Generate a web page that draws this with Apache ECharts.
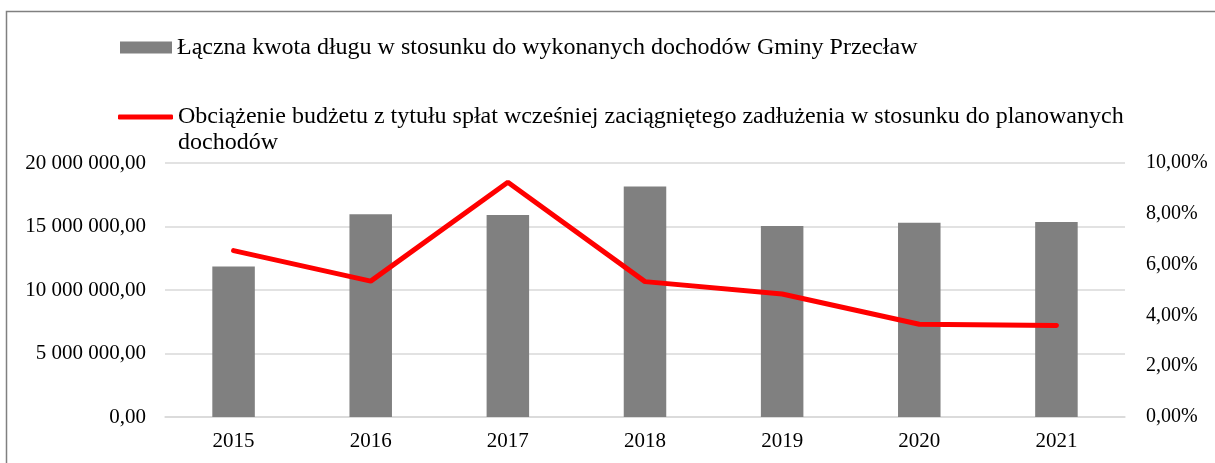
<!DOCTYPE html>
<html>
<head>
<meta charset="utf-8">
<script src="https://cdn.jsdelivr.net/npm/echarts@6/dist/echarts.min.js"></script>
<style>
  html, body { margin: 0; padding: 0; background: #fff; }
  #main { width: 1215px; height: 463px; }
</style>
</head>
<body>
<div id="main"></div>
<script>
var years = ['2015', '2016', '2017', '2018', '2019', '2020', '2021'];
// łączna kwota długu (zł)
var debtValues = [11850000, 15960000, 15900000, 18140000, 15040000, 15300000, 15350000];
// obciążenie budżetu (%)
var burdenValues = [6.55, 5.35, 9.24, 5.33, 4.84, 3.65, 3.60];

var debtName = 'Łączna kwota długu w stosunku do wykonanych dochodów Gminy Przecław';
var burdenName = 'Obciążenie budżetu z tytułu spłat wcześniej zaciągniętego zadłużenia w stosunku do planowanych dochodów';

var font = 'Liberation Serif, Times New Roman, serif';

function plNumber(v) {
    var parts = v.toFixed(2).split('.');
    var intPart = parts[0].replace(/\B(?=(\d{3})+(?!\d))/g, ' ');
    return intPart + ',' + parts[1];
}

var myChart = echarts.init(document.getElementById('main'));

var option = {
    animation: false,
    textStyle: { fontFamily: font, color: '#000' },
    graphic: [{
        type: 'rect',
        shape: { x: 6.5, y: 11.5, width: 1400, height: 700 },
        style: { fill: 'none', stroke: '#808080', lineWidth: 1.5 },
        silent: true
    }],
    legend: [
        {
            data: [{ name: debtName, icon: 'rect' }],
            left: 120,
            top: 34.5,
            padding: 0,
            itemWidth: 52,
            itemHeight: 12,
            selectedMode: false,
            textStyle: { fontFamily: font, fontSize: 24, color: '#000', lineHeight: 26 }
        },
        {
            data: [{ name: burdenName, icon: 'roundRect' }],
            left: 118,
            top: 78,
            padding: 0,
            itemWidth: 55,
            itemHeight: 5,
            selectedMode: false,
            formatter: function (name) {
                // pusta linia na górze, żeby pierwszy wiersz był na wysokości ikony
                return '\nObciążenie budżetu z tytułu spłat wcześniej zaciągniętego zadłużenia w stosunku do planowanych\ndochodów';
            },
            textStyle: { fontFamily: font, fontSize: 24, color: '#000', lineHeight: 26 }
        }
    ],
    grid: {
        left: 165,
        right: 90,
        top: 163,
        bottom: 46
    },
    xAxis: {
        type: 'category',
        data: years,
        axisTick: { show: false },
        axisLine: { lineStyle: { color: '#d9d9d9', width: 1.5 } },
        axisLabel: { fontFamily: font, fontSize: 21, color: '#000', margin: 14 }
    },
    yAxis: [
        {
            type: 'value',
            min: 0,
            max: 20000000,
            interval: 5000000,
            axisLine: { show: false },
            axisTick: { show: false },
            splitLine: { lineStyle: { color: '#d9d9d9', width: 1.5 } },
            axisLabel: {
                fontFamily: font, fontSize: 21, color: '#000', margin: 19,
                formatter: function (v) { return plNumber(v); }
            }
        },
        {
            type: 'value',
            min: 0,
            max: 10,
            interval: 2,
            position: 'right',
            axisLine: { show: false },
            axisTick: { show: false },
            splitLine: { show: false },
            axisLabel: {
                fontFamily: font, fontSize: 20, color: '#000', margin: 21,
                formatter: function (v) { return v.toFixed(2).replace('.', ',') + '%'; }
            }
        }
    ],
    series: [
        {
            name: debtName,
            type: 'bar',
            yAxisIndex: 0,
            barWidth: '31%',
            itemStyle: { color: '#808080' },
            data: debtValues
        },
        {
            name: burdenName,
            type: 'line',
            yAxisIndex: 1,
            symbol: 'none',
            lineStyle: { color: '#ff0000', width: 5, cap: 'round' },
            itemStyle: { color: '#ff0000' },
            data: burdenValues
        }
    ]
};

myChart.setOption(option);
</script>
</body>
</html>
